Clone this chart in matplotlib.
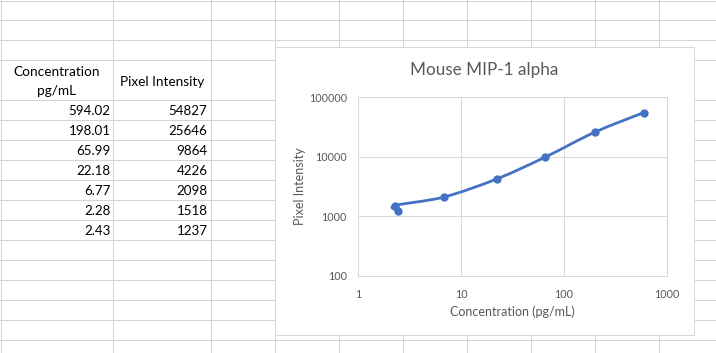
import matplotlib
matplotlib.use("Agg")
import matplotlib.pyplot as plt
import numpy as np
from matplotlib.path import Path
from matplotlib.patches import PathPatch, Rectangle
from matplotlib.ticker import FixedLocator, FixedFormatter, NullLocator

# data as typed in the sheet
conc_labels = ["594.02", "198.01", "65.99", "22.18", "6.77", "2.28", "2.43"]
int_labels = ["54827", "25646", "9864", "4226", "2098", "1518", "1237"]
concentration = [594.02, 198.01, 65.99, 22.18, 6.77, 2.28, 2.43]
intensity = [54827, 25646, 9864, 4226, 2098, 1518, 1237]

x_ticks = [1, 10, 100, 1000]
y_ticks = [100, 1000, 10000, 100000]

W, H = 716, 353
plt.rcParams['font.family'] = ['Lato', 'DejaVu Sans']

fig = plt.figure(figsize=(W / 100, H / 100), dpi=100)
fig.patch.set_facecolor('white')

# worksheet background, pixel coords
bg = fig.add_axes([0, 0, 1, 1])
bg.set_xlim(0, W)
bg.set_ylim(H, 0)
bg.axis('off')

grid_c = '#D4D4D4'
for x in [0.5, 113, 210.5, 274.5, 338.5, 402.5, 466.5, 530.5, 594.5, 658.5]:
    bg.plot([x, x], [0, H], color=grid_c, lw=0.75, zorder=1)
for y in [0.5, 20, 40, 60] + list(range(100, 341, 20)):
    bg.plot([0, W], [y, y], color=grid_c, lw=0.75, zorder=1)

# table
tc = '#000000'
bg.text(57, 72, "Concentration", ha='center', va='center', fontsize=9.8, color=tc)
bg.text(57, 91, "pg/mL", ha='center', va='center', fontsize=9.8, color=tc)
bg.text(162, 82, "Pixel Intensity", ha='center', va='center', fontsize=9.8, color=tc)
for i, (a, b) in enumerate(zip(conc_labels, int_labels)):
    yy = 111 + 20 * i
    bg.text(110.5, yy, a, ha='right', va='center', fontsize=9.6, color=tc)
    bg.text(207.5, yy, b, ha='right', va='center', fontsize=9.6, color=tc)

# chart box
bg.add_patch(Rectangle((275, 47), 419, 288, facecolor='white',
                       edgecolor='#D9D9D9', lw=0.75, zorder=3))

ax = fig.add_axes([358 / W, (H - 276) / H, 309 / W, 179 / H], zorder=4)
ax.set_facecolor('none')
ax.set_xscale('log')
ax.set_yscale('log')
ax.set_xlim(1, 1000)
ax.set_ylim(100, 100000)
ax.xaxis.set_major_locator(FixedLocator(x_ticks))
ax.xaxis.set_major_formatter(FixedFormatter([str(v) for v in x_ticks]))
ax.yaxis.set_major_locator(FixedLocator(y_ticks))
ax.yaxis.set_major_formatter(FixedFormatter([str(v) for v in y_ticks]))
ax.xaxis.set_minor_locator(NullLocator())
ax.yaxis.set_minor_locator(NullLocator())
ax.grid(True, color='#D9D9D9', lw=0.75)
ax.set_axisbelow(True)
for s in ax.spines.values():
    s.set_color('#D9D9D9')
    s.set_linewidth(0.75)
ax.tick_params(length=0, labelsize=7.8, colors='#595959')
ax.tick_params(axis='x', pad=9)
ax.tick_params(axis='y', pad=8)

# smoothed line like excel (catmull-rom bezier in log space)
lx = np.log10(concentration)
ly = np.log10(intensity)
P = np.column_stack([lx, ly])
n = len(P)
verts = [P[0]]
codes = [Path.MOVETO]
for i in range(n - 1):
    p0 = P[max(i - 1, 0)]
    p1 = P[i]
    p2 = P[i + 1]
    p3 = P[min(i + 2, n - 1)]
    verts += [p1 + (p2 - p0) / 6, p2 - (p3 - p1) / 6, p2]
    codes += [Path.CURVE4] * 3
verts = 10 ** np.array(verts)
ax.add_patch(PathPatch(Path(verts, codes), fill=False, edgecolor='#4472C4',
                       lw=2.0, capstyle='round', joinstyle='round'))
ax.plot(concentration, intensity, 'o', ms=5.0, color='#4472C4', clip_on=False)

fig.text(483.7 / W, 1 - 70 / H, "Mouse MIP-1 alpha", ha='center', va='center',
         fontsize=12.3, color='#595959')
fig.text(512.5 / W, 1 - 312 / H, "Concentration (pg/mL)", ha='center', va='center',
         fontsize=9, color='#595959')
fig.text(300 / W, 1 - 186 / H, "Pixel Intensity", ha='center', va='center',
         rotation=90, fontsize=9, color='#595959')

fig.savefig('out.png', dpi=100)
